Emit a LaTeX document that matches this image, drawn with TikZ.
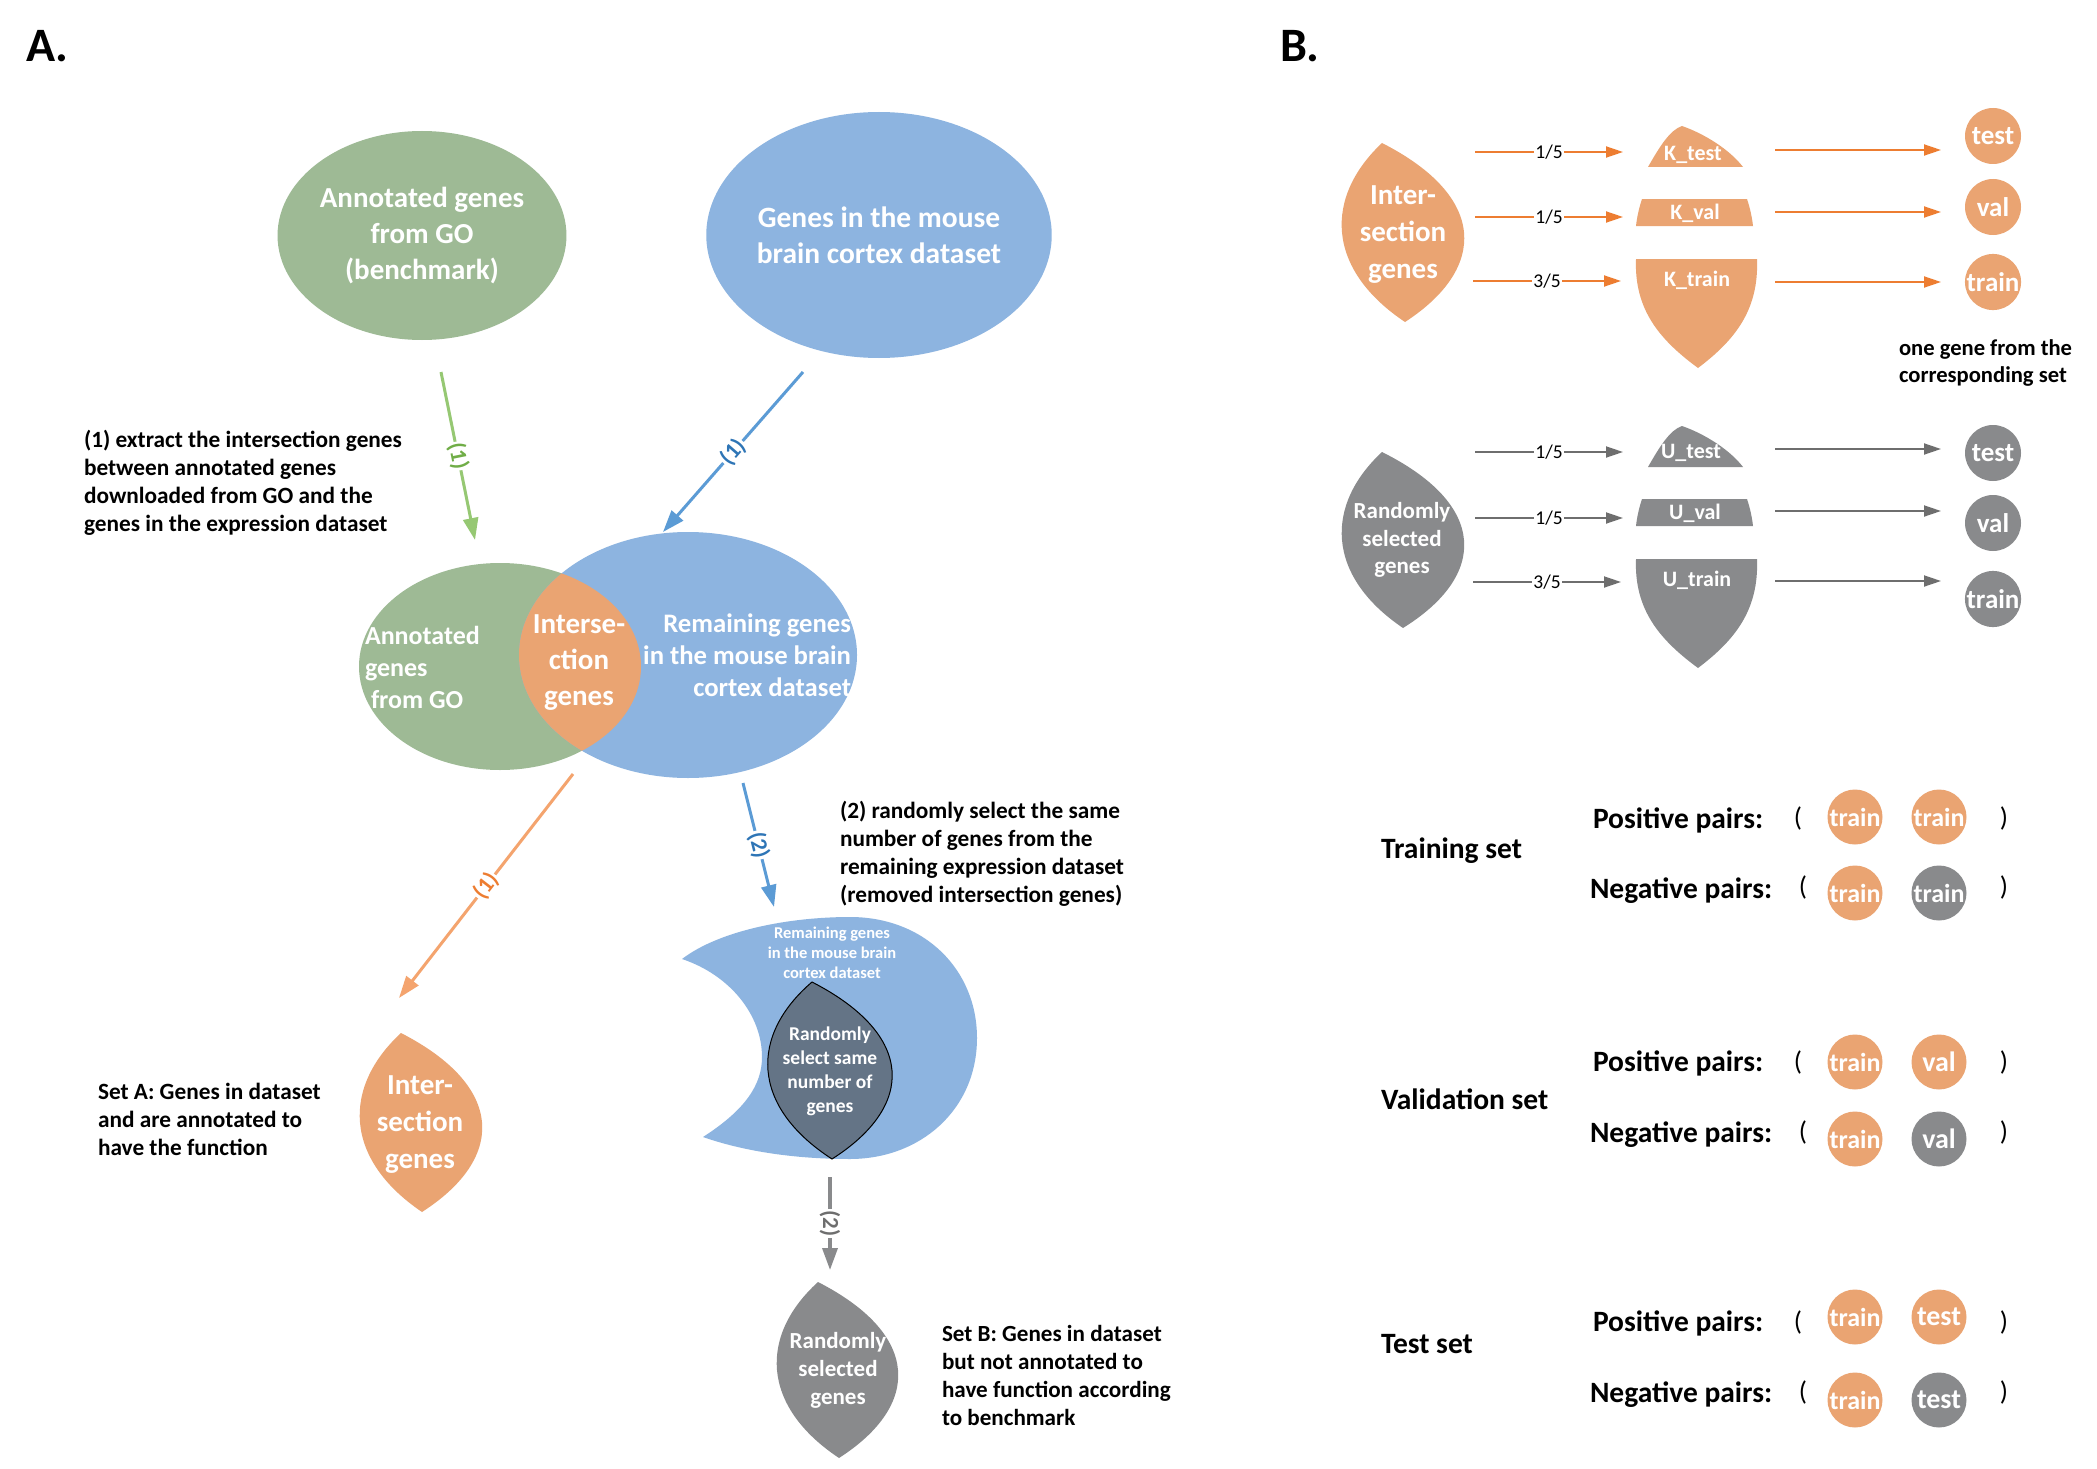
\documentclass[tikz,border=0pt]{standalone}
\usepackage{fontspec}
\setmainfont{Carlito}
\usetikzlibrary{arrows.meta,shapes.geometric}
\definecolor{cgreen}{RGB}{158,186,149}
\definecolor{cblue}{RGB}{141,180,224}
\definecolor{corange}{RGB}{234,164,114}
\definecolor{cslate}{RGB}{100,116,134}
\definecolor{cgray}{RGB}{137,138,140}
\definecolor{agreen}{RGB}{150,200,115}
\definecolor{agreenT}{RGB}{112,173,71}
\definecolor{ablue}{RGB}{91,155,213}
\definecolor{ablueT}{RGB}{46,117,182}
\definecolor{aorange}{RGB}{244,164,110}
\definecolor{aorangeT}{RGB}{237,125,49}
\definecolor{borange}{RGB}{237,125,49}
\definecolor{bgray}{RGB}{110,110,110}
\newcommand\fs[2]{\fontsize{#1}{#2}\selectfont}
% leaf: xt yt xb yb left right
\newcommand\leafpath[6]{(#1,#2) .. controls ({(8*#5-#1-#3)/6},{#2+0.3*(#4-#2)}) and ({(8*#5-#1-#3)/6},{#4-0.3*(#4-#2)}) .. (#3,#4) .. controls ({(8*#6-#1-#3)/6},{#4-0.3*(#4-#2)}) and ({(8*#6-#1-#3)/6},{#2+0.3*(#4-#2)}) .. cycle}
\tikzset{
 arrA/.style={line width=3pt, -{Triangle[length=22pt,width=15pt]}},
 albl/.style={sloped, fill=white, inner sep=1.5pt, font=\bfseries\fs{23}{24}},
 arrB/.style={line width=1.8pt, -{Triangle[length=17pt,width=11pt]}},
 blbl/.style={fill=white, inner sep=1pt, font=\fs{19.5}{20}, text=black},
 wtxt/.style={text=white, align=center},
 dtxt/.style={anchor=west, align=left, font=\bfseries\fs{23.3}{28}},
 bub/.style={circle, minimum size=56pt, inner sep=0pt, text=white, font=\bfseries\fs{27}{30}},
 pbub/.style={circle, minimum size=55pt, inner sep=0pt, text=white, font=\bfseries\fs{26}{30}},
 ptxt/.style={anchor=west, font=\bfseries\fs{29.5}{32}},
 paren/.style={font=\fs{27}{30}},
}
\begin{document}
\begin{tikzpicture}[x=1pt,y=-1pt, every node/.style={inner sep=0pt, outer sep=0pt}]
\useasboundingbox (0,0) rectangle (2097,1469);
\fill[white] (0,0) rectangle (2097,1469);

% ---------------- Panel A ----------------
\node[anchor=west, font=\bfseries\fs{48}{50}] (titleA) at (26,46) {A.};
\node[anchor=west, font=\bfseries\fs{48}{50}] (titleB) at (1280,46) {B.};

\node[ellipse, fill=cgreen, minimum width=282pt, minimum height=209pt, wtxt, font=\bfseries\fs{29}{36}] (goTop) at (422,235.5) {Annotated genes\\from GO\\(benchmark)};
\node[ellipse, fill=cblue, minimum width=336pt, minimum height=246pt, wtxt, font=\bfseries\fs{29.5}{36}] (dsTop) at (879,235) {Genes in the mouse\\brain cortex dataset};

% Venn
\node[ellipse, fill=cgreen, minimum width=282pt, minimum height=207pt] (vg) at (500,666.5) {};
\node[ellipse, fill=cblue, minimum width=338pt, minimum height=246pt] (vb) at (688,655) {};
\begin{scope}
 \clip (500,666.5) ellipse [x radius=141pt, y radius=103.5pt];
 \fill[corange] (688,655) ellipse [x radius=169pt, y radius=123pt];
\end{scope}
\node[anchor=west, align=left, text=white, font=\bfseries\fs{26}{32}] (vgTxt) at (365,667) {Annotated\\genes\\\hspace*{6pt}from GO};
\node[wtxt, font=\bfseries\fs{29}{36}] (vxTxt) at (579,663) {Interse-\\ction\\genes};
\node[anchor=east, align=right, text=white, font=\bfseries\fs{26.7}{32}] (vbTxt) at (851,655) {Remaining genes\\in the mouse brain\\cortex dataset};

% arrows (1)
\coordinate (g1s) at (441,372); \coordinate (g1e) at (475,540);
\coordinate (b1s) at (803,372); \coordinate (b1e) at (663,532);
\draw[arrA, agreen] (g1s) -- node[albl, text=agreenT] {(1)} (g1e);
\draw[arrA, ablue] (b1s) -- node[albl, text=ablueT] {(1)} (b1e);

\node[dtxt] (desc1) at (84,483) {(1) extract the intersection genes\\between annotated genes\\downloaded from GO and the\\genes in the expression dataset};

\coordinate (o1s) at (573,774); \coordinate (o1e) at (399,998);
\draw[arrA, aorange] (o1s) -- node[albl, text=aorangeT] {(1)} (o1e);
\coordinate (b2s) at (743,783); \coordinate (b2e) at (774,907);
\draw[arrA, ablue] (b2s) -- node[albl, text=ablueT] {(2)} (b2e);

\node[dtxt] (desc2) at (840,854) {(2) randomly select the same\\number of genes from the\\remaining expression dataset\\(removed intersection genes)};

% crescent
\fill[cblue] (682,959) .. controls (720,930) and (790,917) .. (850,917)
  .. controls (925,917) and (977,970) .. (977,1038)
  .. controls (977,1110) and (920,1159) .. (850,1159)
  .. controls (790,1159) and (740,1150) .. (703,1137)
  .. controls (745,1110) and (762,1085) .. (762,1057)
  .. controls (762,1015) and (730,975) .. (682,959) -- cycle;
\node[wtxt, font=\bfseries\fs{16.5}{20}] (cresTxt) at (832,953) {Remaining genes\\in the mouse brain\\cortex dataset};
\filldraw[fill=cslate, draw=black, line width=1pt] \leafpath{812}{982}{832}{1159}{768}{892};
\node[wtxt, font=\bfseries\fs{19.5}{24}] (slateTxt) at (830,1071) {Randomly\\select same\\number of\\genes};

\coordinate (g2s) at (830,1177); \coordinate (g2e) at (830,1270);
\draw[arrA, cgray, line width=3.5pt] (g2s) -- node[albl, text=bgray] {(2)} (g2e);

\fill[cgray] \leafpath{818}{1282}{839}{1458}{777}{898};
\node[wtxt, font=\bfseries\fs{23}{28}] (setBleaf) at (838,1370) {Randomly\\selected\\genes};
\node[dtxt, font=\bfseries\fs{23.1}{28}] (setBTxt) at (942,1375) {Set B: Genes in dataset\\but not annotated to\\have function according\\to benchmark};

\fill[corange] \leafpath{401}{1033}{422}{1212}{360}{482};
\node[wtxt, font=\bfseries\fs{29}{37}] (setAleaf) at (420,1125) {Inter-\\section\\genes};
\node[dtxt] (setATxt) at (98,1119) {Set A: Genes in dataset\\and are annotated to\\have the function};

% ---------------- Panel B ----------------
\fill[corange] \leafpath{1382}{143}{1405}{322}{1342}{1464};
\node[wtxt, font=\bfseries\fs{29}{37}] (kLeaf) at (1403,235) {Inter-\\section\\genes};
\fill[cgray] \leafpath{1382}{452}{1403}{628}{1342}{1464};
\node[wtxt, font=\bfseries\fs{23}{27.5}] (uLeaf) at (1402,540) {Randomly\\selected\\genes};

% K pieces
\fill[corange] (1648,167) .. controls (1660,146) and (1670,130) .. (1682,126) .. controls (1705,134) and (1730,150) .. (1743,167) -- cycle;
\fill[corange] (1642,199) -- (1747,199) .. controls (1750,208) and (1752,217) .. (1753,226) -- (1636,226) .. controls (1637,217) and (1639,208) .. (1642,199) -- cycle;
\fill[corange] (1636,259) -- (1757,259) .. controls (1759,310) and (1735,340) .. (1698,368) .. controls (1660,340) and (1634,310) .. (1636,259) -- cycle;
\node[text=white, font=\bfseries\fs{22}{24}] (ktest) at (1693,155) {K\_test};
\node[text=white, font=\bfseries\fs{22}{24}] (kval) at (1695,213) {K\_val};
\node[text=white, font=\bfseries\fs{22}{24}] (ktrain) at (1697,280) {K\_train};
% U pieces
\begin{scope}[shift={(0,300)}]
\fill[cgray] (1648,167) .. controls (1660,146) and (1670,130) .. (1682,126) .. controls (1705,134) and (1730,150) .. (1743,167) -- cycle;
\fill[cgray] (1642,199) -- (1747,199) .. controls (1750,208) and (1752,217) .. (1753,226) -- (1636,226) .. controls (1637,217) and (1639,208) .. (1642,199) -- cycle;
\fill[cgray] (1636,259) -- (1757,259) .. controls (1759,310) and (1735,340) .. (1698,368) .. controls (1660,340) and (1634,310) .. (1636,259) -- cycle;
\node[text=white, font=\bfseries\fs{22}{24}] (utest) at (1691,153) {U\_test};
\node[text=white, font=\bfseries\fs{22}{24}] (uval) at (1695,213) {U\_val};
\node[text=white, font=\bfseries\fs{22}{24}] (utrain) at (1697,280) {U\_train};
\end{scope}

% split arrows
\coordinate (ka1) at (1475,152); \coordinate (kb1) at (1623,152);
\coordinate (ka2) at (1475,217); \coordinate (kb2) at (1623,217);
\coordinate (ka3) at (1473,281); \coordinate (kb3) at (1621,281);
\draw[arrB, borange] (ka1) -- node[blbl] {1/5} (kb1);
\draw[arrB, borange] (ka2) -- node[blbl] {1/5} (kb2);
\draw[arrB, borange] (ka3) -- node[blbl] {3/5} (kb3);
\coordinate (ua1) at (1475,452); \coordinate (ub1) at (1623,452);
\coordinate (ua2) at (1475,518); \coordinate (ub2) at (1623,518);
\coordinate (ua3) at (1473,582); \coordinate (ub3) at (1621,582);
\draw[arrB, bgray] (ua1) -- node[blbl] {1/5} (ub1);
\draw[arrB, bgray] (ua2) -- node[blbl] {1/5} (ub2);
\draw[arrB, bgray] (ua3) -- node[blbl] {3/5} (ub3);

% circles
\node[bub, fill=corange] (ctest) at (1993,136) {test};
\node[bub, fill=corange] (cval) at (1993,207) {val};
\node[bub, fill=corange] (ctrain) at (1993,282) {train};
\node[bub, fill=cgray] (gtest) at (1993,453) {test};
\node[bub, fill=cgray] (gval) at (1993,523) {val};
\node[bub, fill=cgray] (gtrain) at (1993,599) {train};
\coordinate (kc1) at (1775,150); \coordinate (kc2) at (1775,212); \coordinate (kc3) at (1775,282);
\coordinate (kd1) at (1941,150); \coordinate (kd2) at (1941,212); \coordinate (kd3) at (1941,282);
\draw[arrB, borange] (kc1) -- (kd1);
\draw[arrB, borange] (kc2) -- (kd2);
\draw[arrB, borange] (kc3) -- (kd3);
\coordinate (uc1) at (1775,449); \coordinate (uc2) at (1775,511); \coordinate (uc3) at (1775,581);
\coordinate (ud1) at (1941,449); \coordinate (ud2) at (1941,511); \coordinate (ud3) at (1941,581);
\draw[arrB, bgray] (uc1) -- (ud1);
\draw[arrB, bgray] (uc2) -- (ud2);
\draw[arrB, bgray] (uc3) -- (ud3);
\node[anchor=west, align=left, font=\bfseries\fs{22.6}{27}] (oneGene) at (1899,363) {one gene from the\\corresponding set};

% pair sets
\node[ptxt] (trainSet) at (1381,851) {Training set};
\node[ptxt] (trPos) at (1593,820) {Positive pairs:};
\node[ptxt] (trNeg) at (1590,891) {Negative pairs:};
\node[paren] (trPo) at (1798,818) {(}; \node[paren] (trPc) at (2004,818) {)};
\node[paren] (trNo) at (1803,887) {(}; \node[paren] (trNc) at (2004,887) {)};
\node[pbub, fill=corange] (tr1) at (1855,817) {train};
\node[pbub, fill=corange] (tr2) at (1939,817) {train};
\node[pbub, fill=corange] (tr3) at (1855,893) {train};
\node[pbub, fill=cgray] (tr4) at (1939,893) {train};

\node[ptxt] (valSet) at (1381,1099) {Validation set};
\node[ptxt] (vaPos) at (1593,1063) {Positive pairs:};
\node[ptxt] (vaNeg) at (1590,1135) {Negative pairs:};
\node[paren] (vaPo) at (1798,1062) {(}; \node[paren] (vaPc) at (2004,1062) {)};
\node[paren] (vaNo) at (1803,1132) {(}; \node[paren] (vaNc) at (2004,1132) {)};
\node[pbub, fill=corange] (va1) at (1855,1062) {train};
\node[pbub, fill=corange, font=\bfseries\fs{28}{30}] (va2) at (1939,1062) {val};
\node[pbub, fill=corange] (va3) at (1855,1139) {train};
\node[pbub, fill=cgray, font=\bfseries\fs{28}{30}] (va4) at (1939,1139) {val};

\node[ptxt] (testSet) at (1381,1344) {Test set};
\node[ptxt] (tePos) at (1593,1323) {Positive pairs:};
\node[ptxt] (teNeg) at (1590,1395) {Negative pairs:};
\node[paren] (tePo) at (1798,1322) {(}; \node[paren] (tePc) at (2004,1322) {)};
\node[paren] (teNo) at (1803,1392) {(}; \node[paren] (teNc) at (2004,1392) {)};
\node[pbub, fill=corange] (te1) at (1855,1317) {train};
\node[pbub, fill=corange, font=\bfseries\fs{28}{30}] (te2) at (1939,1317) {test};
\node[pbub, fill=corange] (te3) at (1855,1400) {train};
\node[pbub, fill=cgray, font=\bfseries\fs{28}{30}] (te4) at (1939,1400) {test};
\end{tikzpicture}
\end{document}
